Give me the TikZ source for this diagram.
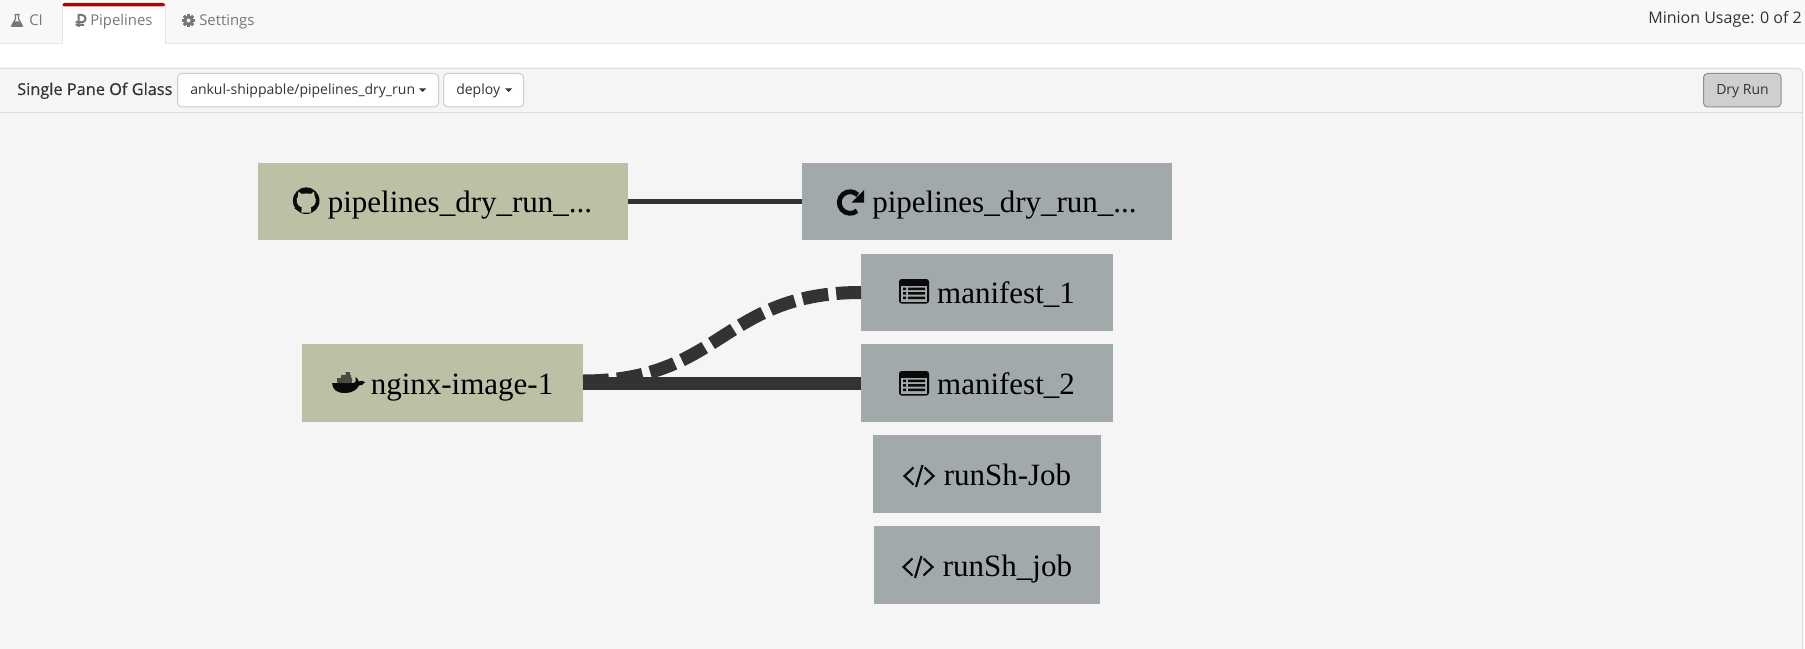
\documentclass[tikz,border=0pt]{standalone}
\usepackage{fontspec}
\setmainfont{Liberation Serif}
\newfontfamily\uifont{Open Sans}
\newfontfamily\uititle[FakeBold=0.25]{Open Sans}
\definecolor{navbg}{HTML}{F8F8F8}
\definecolor{navline}{HTML}{E7E7E7}
\definecolor{panelbg}{HTML}{F5F5F5}
\definecolor{panelline}{HTML}{DDDDDD}
\definecolor{srcbox}{HTML}{BDC0A5}
\definecolor{jobbox}{HTML}{A1A9AA}
\definecolor{edgecol}{HTML}{333333}
\definecolor{tabtext}{HTML}{777777}
\definecolor{activered}{HTML}{B80000}
\definecolor{btnfill}{HTML}{CFCFCF}
\definecolor{btnline}{HTML}{8E8E8E}
\definecolor{ddline}{HTML}{CCCCCC}
\definecolor{inktext}{HTML}{333333}
\definecolor{iconink}{HTML}{0A0A0A}
\tikzset{
  pxbox/.style={fill=#1,inner sep=0pt,outer sep=0pt,
    minimum height=77.5*0.75pt,text=black,text height=19.5pt,text depth=3pt,
    font=\fontsize{23.25pt}{28pt}\selectfont},
  tabtxt/.style={font=\uifont\fontsize{11.15pt}{13pt}\selectfont,text=tabtext,anchor=base west,inner sep=0pt},
  headtxt/.style={font=\uifont\fontsize{10.5pt}{13pt}\selectfont,text=inktext,anchor=base west,inner sep=0pt},
  ddbox/.style={draw=ddline,fill=white,line width=0.75pt,rounded corners=3pt},
  thinedge/.style={draw=edgecol,line width=3.75pt},
  thickedge/.style={draw=edgecol,line width=9.75pt},
  dashedge/.style={draw=edgecol,line width=9.75pt,dash pattern=on 19.5pt off 6pt},
}
\begin{document}
\begin{tikzpicture}[x=0.75pt,y=-0.75pt]
\useasboundingbox (0,0) rectangle (1805,649);
\fill[white] (0,0) rectangle (1805,649);
% nav bar
\fill[navbg] (0,0) rectangle (1805,43);
\draw[navline,line width=0.75pt] (0,43.5) -- (1805,43.5);
% active tab
\fill[white] (62.5,3) rectangle (165,44.2);
\draw[navline,line width=0.75pt] (62.5,4) -- (62.5,44) (165,4) -- (165,44);
\fill[activered,rounded corners=1.5pt] (62.5,3) rectangle (165,6.5);
% panel
\fill[panelbg,rounded corners=3pt] (-4,68.5) -- (1802,68.5) -- (1802,660) -- (-4,660) -- cycle;
\draw[panelline,line width=0.75pt,rounded corners=3pt] (-4,660) -- (-4,68.5) -- (1802.5,68.5) -- (1802.5,660);
\draw[panelline,line width=0.75pt] (0,113) -- (1802,113);
% tab texts
\node[tabtxt] (tci) at (29,26) {CI};
\node[tabtxt] (tpipe) at (90,26) {Pipelines};
\node[tabtxt] (tset) at (199,26) {Settings};
\node[headtxt,font=\uifont\fontsize{12pt}{14pt}\selectfont,text=inktext,anchor=base east] (minion) at (1802,24) {Minion Usage: 0 of 2};
% flask
\begin{scope}[tabtext]
\draw[line width=0.9pt] (14.5,14.5) -- (19.5,14.5) (15.5,14.5) -- (15.5,19) -- (11.8,25.5) -- (22.2,25.5) -- (18.5,19) -- (18.5,14.5);
\fill (14,21.5) -- (20,21.5) -- (22.8,26.8) -- (11.2,26.8) -- cycle;
% rouble
\draw[line width=1.5pt] (78.5,27) -- (78.5,15) -- (82,15) arc[start angle=-90,end angle=90,radius=3.6] -- (75.5,22.2) (75.5,24.9) -- (84,24.9);
% gear
\fill[even odd rule] (188.5,20.5) circle[radius=5.3] (188.5,20.5) circle[radius=2.1];
\foreach \a in {0,45,...,315}{
  \fill[rotate around={\a:(188.5,20.5)}] (187,13.8) rectangle (190,17);
}
\end{scope}
% panel header
\node[headtxt,font=\uititle\fontsize{12.25pt}{14pt}\selectfont,text=inktext] (title) at (17,95) {Single Pane Of Glass};
\draw[ddbox] (177.5,73.5) rectangle (438.5,107);
\draw[ddbox] (443.5,73.5) rectangle (523.5,107);
\node[headtxt] (repo) at (190,95) {ankul-shippable/pipelines\_dry\_run};
\node[headtxt] (branch) at (456,95) {deploy};
\fill[inktext] (419,88.5) -- (426,88.5) -- (422.5,92) -- cycle;
\fill[inktext] (505,88.5) -- (512,88.5) -- (508.5,92) -- cycle;
\draw[draw=btnline,fill=btnfill,line width=0.75pt,rounded corners=3pt] (1703.5,73.5) rectangle (1781,107);
\node[headtxt] (dry) at (1716,95) {Dry Run};
% boxes
\node[pxbox=srcbox,minimum width=370*0.75pt] (p1) at (443,201.5) {\hspace*{25.5pt}pipelines\_dry\_run\_...};
\node[pxbox=jobbox,minimum width=370*0.75pt] (p2) at (987,201.5) {\hspace*{26.25pt}pipelines\_dry\_run\_...};
\node[pxbox=jobbox,minimum width=252*0.75pt] (m1) at (987,292.5) {\hspace*{28.5pt}manifest\_1};
\node[pxbox=jobbox,minimum width=252*0.75pt] (m2) at (987,383) {\hspace*{28.5pt}manifest\_2};
\node[pxbox=jobbox,minimum width=228*0.75pt] (r1) at (987,474) {\hspace*{30.75pt}runSh-Job};
\node[pxbox=jobbox,minimum width=226*0.75pt] (r2) at (987,565) {\hspace*{30.75pt}runSh\_job};
\node[pxbox=srcbox,minimum width=281*0.75pt] (ng) at (442.5,383) {\hspace*{29.25pt}nginx-image-1};
% connectors
\draw[thinedge] (p1.east) -- (p2.west);
\draw[dashedge] ([yshift=1.5pt]ng.east) .. controls (722,381) and (722,292.5) .. (m1.west);
\draw[thickedge] (ng.east) -- (m2.west);
% github icon
\fill[iconink] (306.2,200.7) circle[radius=13.3];
\fill[srcbox] (298.5,191.5) -- (301.5,194) .. controls (304,193.3) and (308.4,193.3) .. (311,194) -- (314,191.5) -- (314.7,196.5) .. controls (317,200) and (316,206) .. (310.5,207.5) .. controls (311.4,208.5) and (311.2,210) .. (311.2,212.5) -- (301.3,212.5) .. controls (301.3,210) and (301,208.5) .. (302,207.5) .. controls (296.5,206) and (295.5,200) .. (297.8,196.5) -- cycle;
\draw[iconink,line width=1pt] (295,208) .. controls (297,210.5) and (299,209.5) .. (301.5,209.5);
% refresh icon
\draw[iconink,line width=3.6pt] (857,210.8) arc[start angle=50,end angle=315,radius=10.8];
\fill[iconink] (864,190) -- (864,202.5) -- (851.5,202.5) -- cycle;
% list icons
\foreach \yy in {279,371}{
  \fill[iconink,rounded corners=2pt] (899,\yy) rectangle (929,\yy+24.5);
  \fill[jobbox] (901,\yy+6.5) rectangle (927,\yy+22.5);
  \fill[iconink] (903,\yy+8.5) rectangle (906,\yy+11) (903,\yy+13) rectangle (906,\yy+15.5) (903,\yy+17.5) rectangle (906,\yy+20)
   (908,\yy+8.5) rectangle (925,\yy+11) (908,\yy+13) rectangle (925,\yy+15.5) (908,\yy+17.5) rectangle (925,\yy+20);
}
% code icons
\begin{scope}[iconink,line width=1.6pt,line cap=butt]
\draw (913.5,467.5) -- (904.5,476) -- (913.5,484.5);
\draw (924.5,467.5) -- (933.5,476) -- (924.5,484.5);
\draw (922.5,465) -- (916,487);
\draw (912.5,558.5) -- (903.5,567) -- (912.5,575.5);
\draw (923.5,558.5) -- (932.5,567) -- (923.5,575.5);
\draw (921.5,556) -- (915,578);
\end{scope}
% docker icon
\fill[iconink] (332,383) -- (353.5,383) .. controls (355.5,383) and (356,382) .. (355.5,377) .. controls (357.5,378) and (358.5,380) .. (358.7,381.5) .. controls (360.5,380.5) and (363,380.5) .. (365,382) .. controls (363.5,385) and (361,385.5) .. (359,385.5) .. controls (356.5,390.5) and (351.5,393) .. (345,393) .. controls (337,393) and (332.5,390) .. (332,383) -- cycle;
\fill[iconink!65!srcbox] (337,378) rectangle (352,383) (341,375) rectangle (351,378) (345.5,372) rectangle (350,375);
\end{tikzpicture}
\end{document}
